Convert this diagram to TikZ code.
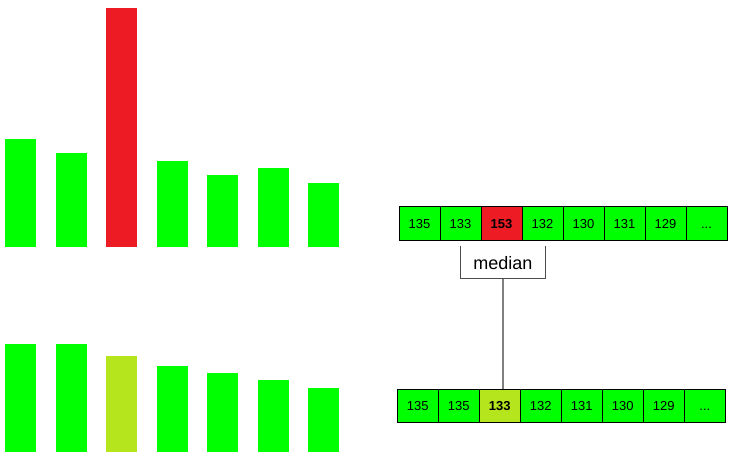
\documentclass[tikz,border=0pt]{standalone}
\usepackage{fontspec}
\setmainfont{Liberation Sans}
\usepackage{tikz}
\definecolor{barGreen}{HTML}{00FF00}
\definecolor{barRed}{HTML}{ED1C24}
\definecolor{barLime}{HTML}{B5E61D}
\newcommand{\celldots}{...}
\tikzset{>=stealth}

\begin{document}
\begin{tikzpicture}[x=1pt, y=-1pt,
    cell/.style={draw=black, line width=1pt, minimum width=41pt, minimum height=33.5pt, inner sep=0pt, text height=9.4pt, text depth=0pt, font=\fontsize{13}{15}\selectfont},
    medbox/.style={minimum width=84pt, minimum height=32pt, inner sep=0pt, font=\fontsize{18}{20}\selectfont}]
        \useasboundingbox (0,0) rectangle (754,458);
        % bars before filtering
        \foreach \x/\h/\c in {5/108/barGreen, 55.5/94/barGreen, 106/239/barRed, 156.5/86/barGreen, 207/72/barGreen, 257.5/79/barGreen, 308/64/barGreen}
        {
            \fill[\c](\x,247) rectangle ++(31,-\h);
        }
        % bars after filtering
        \foreach \x/\h/\c in {5/108/barGreen, 55.5/108/barGreen, 106/96/barLime, 156.5/86/barGreen, 207/79/barGreen, 257.5/72/barGreen, 308/64/barGreen}
        {
            \fill[\c](\x,452) rectangle ++(31,-\h);
        }
        % arrays
        \foreach \i/\v/\c in {1/135/barGreen, 2/133/barGreen, 3/{\textbf{153}}/barRed, 4/132/barGreen, 5/130/barGreen, 6/131/barGreen, 7/129/barGreen, 8/\celldots/barGreen}
        {
            \node[cell, fill=\c](t\i) at ({378.5+41*\i},223.5){\v};
        }
        \foreach \i/\v/\c in {1/135/barGreen, 2/135/barGreen, 3/{\textbf{133}}/barLime, 4/132/barGreen, 5/131/barGreen, 6/130/barGreen, 7/129/barGreen, 8/\celldots/barGreen}
        {
            \node[cell, fill=\c](b\i) at ({376.8+41*\i},405.8){\v};
        }
        \node[medbox](med) at (502.8,262.6){median};
        \draw[black!70, line width=1pt](med.north west)--(med.south west)--(med.south east)--(med.north east);
        \draw[black!50, line width=1.5pt](med.south)--(med.south |- b3.north);
    \end{tikzpicture}
\end{document}
